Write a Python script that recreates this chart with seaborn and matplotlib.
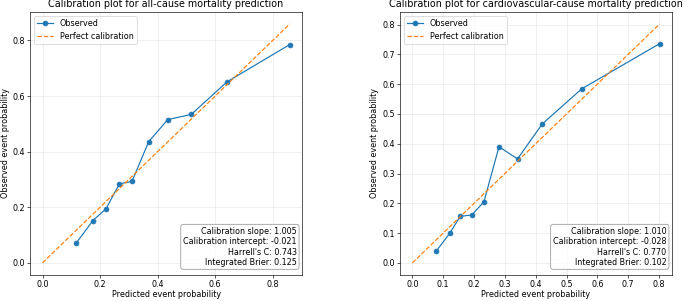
import matplotlib
matplotlib.use('Agg')
import matplotlib.pyplot as plt
import pandas as pd
import seaborn as sns

# ---------------------------
# Data
# ---------------------------
all_pred = [0.117, 0.175, 0.221, 0.267, 0.311, 0.369, 0.435, 0.517, 0.641, 0.859]
all_obs = [0.071, 0.152, 0.195, 0.284, 0.293, 0.436, 0.515, 0.534, 0.651, 0.785]
all_stats = ["Calibration slope: 1.005", "Calibration intercept: -0.021",
             "Harrell's C: 0.743", "Integrated Brier: 0.125"]

cv_pred = [0.077, 0.121, 0.155, 0.193, 0.232, 0.281, 0.341, 0.421, 0.549, 0.802]
cv_obs = [0.039, 0.099, 0.156, 0.161, 0.205, 0.390, 0.349, 0.466, 0.584, 0.736]
cv_stats = ["Calibration slope: 1.010", "Calibration intercept: -0.028",
            "Harrell's C: 0.770", "Integrated Brier: 0.102"]

titles = ["Calibration plot for all-cause mortality prediction",
          "Calibration plot for cardiovascular-cause mortality prediction"]

# ---------------------------
# Plot
# ---------------------------
dpi = 57.6
fig, axes = plt.subplots(1, 2, figsize=(685 / dpi, 301 / dpi), dpi=dpi)
fig.subplots_adjust(left=0.044, right=0.981, bottom=0.087, top=0.960, wspace=0.36)

panels = [(all_pred, all_obs, all_stats), (cv_pred, cv_obs, cv_stats)]

for ax, (pred, obs, stats), title in zip(axes, panels, titles):
    df = pd.DataFrame({"pred": pred, "obs": obs})
    top = max(pred)
    diag = pd.DataFrame({"pred": [0, top], "obs": [0, top]})

    sns.lineplot(data=df, x="pred", y="obs", marker="o", color="C0",
                 markeredgecolor="C0", markeredgewidth=1, markersize=6,
                 label="Observed", ax=ax)
    sns.lineplot(data=diag, x="pred", y="obs", color="C1", linestyle="--",
                 label="Perfect calibration", ax=ax)

    ax.tick_params(pad=2.5)
    ax.set_xlabel("Predicted event probability", labelpad=2)
    ax.set_ylabel("Observed event probability")
    ax.set_title(title)
    ax.grid(True, alpha=0.3)
    ax.legend(loc="upper left")

    ax.text(0.98, 0.03, "\n".join(stats), transform=ax.transAxes,
            ha="right", va="bottom", multialignment="right",
            bbox=dict(boxstyle="round", facecolor="white", alpha=0.8, edgecolor="gray"))

plt.savefig("out.png", dpi=dpi)
plt.close()
